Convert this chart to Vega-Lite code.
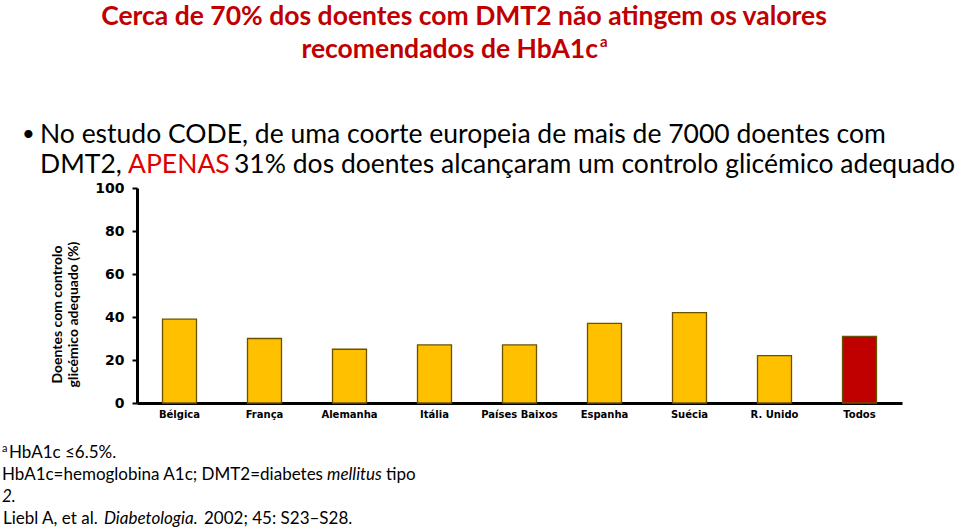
{
  "$schema": "https://vega.github.io/schema/vega-lite/v6.json",
  "autosize": "none",
  "width": 765,
  "height": 215,
  "padding": {"left": 137, "top": 188, "right": 58, "bottom": 127},
  "background": "white",
  "config": {"view": {"stroke": null}},
  "layer": [
    {
      "data": {"values": [
        {"pais": "Bélgica", "pct": 39, "grupo": "país"},
        {"pais": "França", "pct": 30, "grupo": "país"},
        {"pais": "Alemanha", "pct": 25, "grupo": "país"},
        {"pais": "Itália", "pct": 27, "grupo": "país"},
        {"pais": "Países Baixos", "pct": 27, "grupo": "país"},
        {"pais": "Espanha", "pct": 37, "grupo": "país"},
        {"pais": "Suécia", "pct": 42, "grupo": "país"},
        {"pais": "R. Unido", "pct": 22, "grupo": "país"},
        {"pais": "Todos", "pct": 31, "grupo": "todos"}
      ]},
      "mark": {"type": "bar", "stroke": "#6b5200", "strokeWidth": 1.3},
      "encoding": {
        "x": {"field": "pais", "type": "nominal", "sort": null,
          "scale": {"paddingInner": 0.6, "paddingOuter": 0.3},
          "axis": {"title": null, "labelAngle": 0, "labelFont": "DejaVu Sans", "labelFontWeight": "bold", "labelFontSize": 10, "labelColor": "#000", "labelPadding": 6, "ticks": false, "domainColor": "#000", "domainWidth": 3}},
        "y": {"field": "pct", "type": "quantitative",
          "scale": {"domain": [0, 100]},
          "axis": {"values": [0, 20, 40, 60, 80, 100], "grid": false, "title": ["Doentes com controlo", "glicémico adequado (%)"], "titleFont": "Lato", "titleFontWeight": "bold", "titleFontSize": 14, "titleLineHeight": 16, "titleColor": "#000", "titlePadding": 14, "titleY": 126, "titleAlign": "center", "labelFont": "DejaVu Sans", "labelFontWeight": "bold", "labelFontSize": 14, "labelColor": "#000", "labelPadding": 8, "tickSize": 5, "tickWidth": 2, "tickColor": "#000", "domainColor": "#000", "domainWidth": 3}},
        "color": {"field": "grupo", "type": "nominal", "scale": {"domain": ["país", "todos"], "range": ["#FFC000", "#C00000"]}, "legend": null}
      }
    },
    {"data": {"values": [{}]}, "mark": {"type": "text", "font": "Lato", "fontWeight": "bold", "fontSize": 26.5, "fill": "#C00000", "align": "center", "baseline": "alphabetic"},
     "encoding": {"x": {"value": 327}, "y": {"value": -163}, "text": {"value": "Cerca de 70% dos doentes com DMT2 não atingem os valores"}}},
    {"data": {"values": [{}]}, "mark": {"type": "text", "font": "Lato", "fontWeight": "bold", "fontSize": 26.5, "fill": "#C00000", "align": "right", "baseline": "alphabetic"},
     "encoding": {"x": {"value": 461}, "y": {"value": -130}, "text": {"value": "recomendados de HbA1c"}}},
    {"data": {"values": [{}]}, "mark": {"type": "text", "font": "Lato", "fontWeight": "bold", "fontSize": 15, "fill": "#C00000", "align": "left", "baseline": "alphabetic"},
     "encoding": {"x": {"value": 463}, "y": {"value": -141}, "text": {"value": "a"}}},
    {"data": {"values": [{}]}, "mark": {"type": "text", "font": "Lato", "fontSize": 22, "fill": "#000", "align": "left", "baseline": "alphabetic"},
     "encoding": {"x": {"value": -115}, "y": {"value": -47}, "text": {"value": "•"}}},
    {"data": {"values": [{}]}, "mark": {"type": "text", "font": "Lato", "fontSize": 26.5, "fill": "#000", "align": "left", "baseline": "alphabetic"},
     "encoding": {"x": {"value": -97}, "y": {"value": -45}, "text": {"value": "No estudo CODE, de uma coorte europeia de mais de 7000 doentes com"}}},
    {"data": {"values": [{}]}, "mark": {"type": "text", "font": "Lato", "fontSize": 26.5, "fill": "#000", "align": "left", "baseline": "alphabetic"},
     "encoding": {"x": {"value": -97}, "y": {"value": -15}, "text": {"value": "DMT2,"}}},
    {"data": {"values": [{}]}, "mark": {"type": "text", "font": "Lato", "fontSize": 26.5, "fill": "#E00000", "align": "left", "baseline": "alphabetic"},
     "encoding": {"x": {"value": -9}, "y": {"value": -15}, "text": {"value": "APENAS"}}},
    {"data": {"values": [{}]}, "mark": {"type": "text", "font": "Lato", "fontSize": 26.5, "fill": "#000", "align": "left", "baseline": "alphabetic"},
     "encoding": {"x": {"value": 97}, "y": {"value": -15}, "text": {"value": "31% dos doentes alcançaram um controlo glicémico adequado"}}},
    {"data": {"values": [{}]}, "mark": {"type": "text", "font": "Lato", "fontSize": 11, "fill": "#000", "align": "left", "baseline": "alphabetic"},
     "encoding": {"x": {"value": -135}, "y": {"value": 264}, "text": {"value": "a"}}},
    {"data": {"values": [{}]}, "mark": {"type": "text", "font": "Lato", "fontSize": 17, "fill": "#000", "align": "left", "baseline": "alphabetic"},
     "encoding": {"x": {"value": -128}, "y": {"value": 270}, "text": {"value": "HbA1c ≤6.5%."}}},
    {"data": {"values": [{}]}, "mark": {"type": "text", "font": "Lato", "fontSize": 17, "fill": "#000", "align": "left", "baseline": "alphabetic"},
     "encoding": {"x": {"value": -135}, "y": {"value": 292}, "text": {"value": "HbA1c=hemoglobina A1c; DMT2=diabetes"}}},
    {"data": {"values": [{}]}, "mark": {"type": "text", "font": "Lato", "fontSize": 17, "fontStyle": "italic", "fill": "#000", "align": "left", "baseline": "alphabetic"},
     "encoding": {"x": {"value": 190}, "y": {"value": 292}, "text": {"value": "mellitus"}}},
    {"data": {"values": [{}]}, "mark": {"type": "text", "font": "Lato", "fontSize": 17, "fill": "#000", "align": "left", "baseline": "alphabetic"},
     "encoding": {"x": {"value": 249}, "y": {"value": 292}, "text": {"value": "tipo"}}},
    {"data": {"values": [{}]}, "mark": {"type": "text", "font": "Lato", "fontSize": 17, "fontStyle": "italic", "fill": "#000", "align": "left", "baseline": "alphabetic"},
     "encoding": {"x": {"value": -135}, "y": {"value": 314}, "text": {"value": "2."}}},
    {"data": {"values": [{}]}, "mark": {"type": "text", "font": "Lato", "fontSize": 17, "fill": "#000", "align": "left", "baseline": "alphabetic"},
     "encoding": {"x": {"value": -134}, "y": {"value": 336}, "text": {"value": "Liebl A, et al."}}},
    {"data": {"values": [{}]}, "mark": {"type": "text", "font": "Lato", "fontSize": 17, "fontStyle": "italic", "fill": "#000", "align": "left", "baseline": "alphabetic"},
     "encoding": {"x": {"value": -33}, "y": {"value": 336}, "text": {"value": "Diabetologia."}}},
    {"data": {"values": [{}]}, "mark": {"type": "text", "font": "Lato", "fontSize": 17, "fill": "#000", "align": "left", "baseline": "alphabetic"},
     "encoding": {"x": {"value": 67}, "y": {"value": 336}, "text": {"value": "2002; 45: S23–S28."}}}
  ]
}
